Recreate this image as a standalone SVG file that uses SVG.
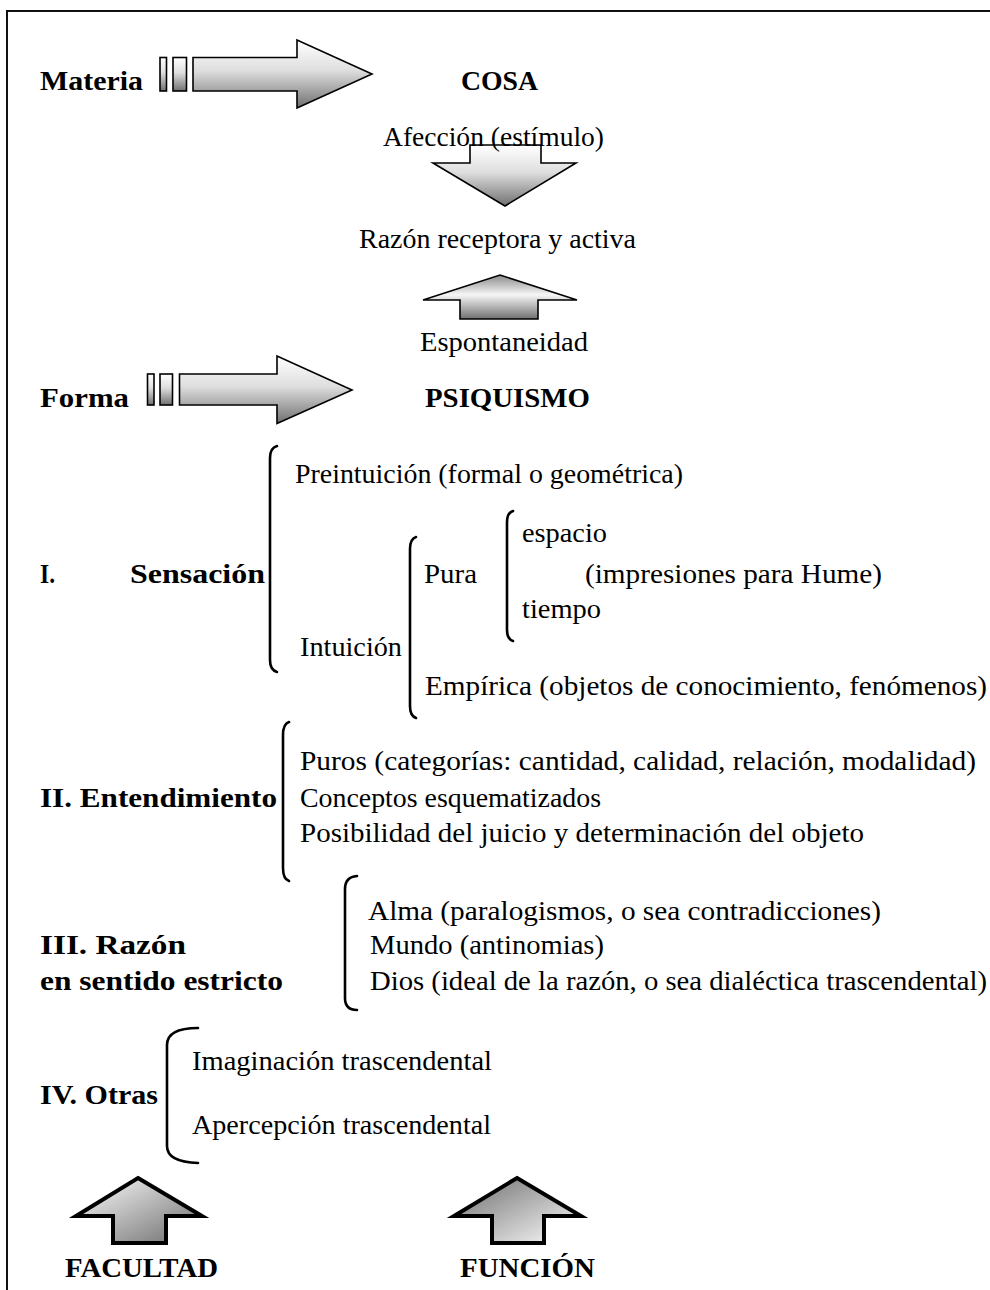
<svg xmlns="http://www.w3.org/2000/svg" width="990" height="1290" viewBox="0 0 990 1290">
  <style>
    .t { font-family: "Liberation Serif", "DejaVu Serif", serif; font-size: 27px; fill: #000; }
    .b { font-family: "Liberation Serif", "DejaVu Serif", serif; font-size: 28px; font-weight: bold; fill: #000; }
    .br { fill: none; stroke: #000; stroke-width: 2.6; stroke-linecap: round; }
    .ar { stroke: #000; stroke-width: 1.6; stroke-linejoin: miter; }
    .big { stroke: #000; stroke-width: 4; stroke-linejoin: miter; }
  </style>
  <defs>
    <linearGradient id="gV" x1="0" y1="0" x2="0" y2="1">
      <stop offset="0" stop-color="#ffffff"/>
      <stop offset="0.45" stop-color="#dedede"/>
      <stop offset="1" stop-color="#707070"/>
    </linearGradient>
    <linearGradient id="gUp" x1="0" y1="0" x2="0" y2="1">
      <stop offset="0" stop-color="#8a8a8a"/>
      <stop offset="0.45" stop-color="#f6f6f6"/>
      <stop offset="1" stop-color="#707070"/>
    </linearGradient>
    <linearGradient id="gD1" x1="0" y1="0" x2="1" y2="1">
      <stop offset="0" stop-color="#ffffff"/>
      <stop offset="1" stop-color="#6a6a6a"/>
    </linearGradient>
    <linearGradient id="gD2" x1="0" y1="0" x2="1" y2="1">
      <stop offset="0" stop-color="#6a6a6a"/>
      <stop offset="1" stop-color="#ffffff"/>
    </linearGradient>
  </defs>

  <rect width="990" height="1290" fill="#fff"/>
  <!-- frame: top and left rules -->
  <path d="M7 1290 V11 H990" fill="none" stroke="#111" stroke-width="2"/>

  <g id="connectors">
    <!-- Materia => COSA -->
    <rect class="ar" x="160" y="57.5" width="6.5" height="33.5" fill="url(#gV)"/>
    <rect class="ar" x="173" y="57.5" width="13.5" height="33.5" fill="url(#gV)"/>
    <polygon class="ar" points="193,57.5 297,57.5 297,40 372,74 297,108 297,91 193,91" fill="url(#gV)"/>
    <!-- Forma => PSIQUISMO -->
    <rect class="ar" x="147.5" y="374" width="6.5" height="31" fill="url(#gV)"/>
    <rect class="ar" x="160" y="374" width="12.5" height="31" fill="url(#gV)"/>
    <polygon class="ar" points="179.5,374 277,374 277,356 352,390 277,423.5 277,405 179.5,405" fill="url(#gV)"/>
    <!-- down arrow under Afección -->
    <polygon class="ar" points="470,145 541,145 541,163 576,163 505,206 433,163 470,163" fill="url(#gV)"/>
    <!-- up arrow above Espontaneidad -->
    <polygon class="ar" points="500,275 577,300 538,300 538,319 460,319 460,300 423,300" fill="url(#gUp)"/>
    <!-- FACULTAD / FUNCIÓN up arrows -->
    <polygon class="big" points="138,1178 202,1216 166,1216 166,1243 113,1243 113,1216 76,1216" fill="url(#gD1)"/>
    <polygon class="big" points="517,1178 581,1216 544,1216 544,1243 492,1243 492,1216 454,1216" fill="url(#gD2)"/>
  </g>

  <g id="brackets">
    <path class="br" d="M277 446 Q270 448 270 458 V660 Q270 670 277 672"/>
    <path class="br" d="M416 537 Q410 539 410 549 V706 Q410 716 416 718"/>
    <path class="br" d="M513 511 Q507 513 507 522 V630 Q507 639 513 641"/>
    <path class="br" d="M289 722 Q283 724 283 735 V868 Q283 879 289 881"/>
    <path class="br" d="M357 876 Q345 877 345 889 V998 Q345 1010 357 1010"/>
    <path class="br" d="M198 1028 Q167 1028 167 1045 V1146 Q167 1162 198 1163"/>
  </g>

  <g id="top-labels">
    <text class="b" x="40" y="90" textLength="103" lengthAdjust="spacingAndGlyphs">Materia</text>
    <text class="b" x="461" y="90" textLength="77" lengthAdjust="spacingAndGlyphs">COSA</text>
    <text class="t" x="383" y="146" textLength="221" lengthAdjust="spacingAndGlyphs">Afección (estímulo)</text>
    <text class="t" x="359" y="248" textLength="277" lengthAdjust="spacingAndGlyphs">Razón receptora y activa</text>
    <text class="t" x="420" y="351" textLength="168" lengthAdjust="spacingAndGlyphs">Espontaneidad</text>
    <text class="b" x="40" y="407" textLength="89" lengthAdjust="spacingAndGlyphs">Forma</text>
    <text class="b" x="425" y="407" textLength="165" lengthAdjust="spacingAndGlyphs">PSIQUISMO</text>
  </g>

  <g id="sensacion">
    <text class="b" x="40" y="583" textLength="15" lengthAdjust="spacingAndGlyphs">I.</text>
    <text class="b" x="130" y="583" textLength="135" lengthAdjust="spacingAndGlyphs">Sensación</text>
    <text class="t" x="295" y="483" textLength="388" lengthAdjust="spacingAndGlyphs">Preintuición (formal o geométrica)</text>
    <text class="t" x="300" y="656" textLength="102" lengthAdjust="spacingAndGlyphs">Intuición</text>
    <text class="t" x="424" y="583" textLength="53" lengthAdjust="spacingAndGlyphs">Pura</text>
    <text class="t" x="522" y="542" textLength="85" lengthAdjust="spacingAndGlyphs">espacio</text>
    <text class="t" x="585" y="583" textLength="297" lengthAdjust="spacingAndGlyphs">(impresiones para Hume)</text>
    <text class="t" x="522" y="618" textLength="79" lengthAdjust="spacingAndGlyphs">tiempo</text>
    <text class="t" x="425" y="695" textLength="562" lengthAdjust="spacingAndGlyphs">Empírica (objetos de conocimiento, fenómenos)</text>
  </g>

  <g id="entendimiento">
    <text class="b" x="40" y="807" textLength="237" lengthAdjust="spacingAndGlyphs">II. Entendimiento</text>
    <text class="t" x="300" y="770" textLength="676" lengthAdjust="spacingAndGlyphs">Puros (categorías: cantidad, calidad, relación, modalidad)</text>
    <text class="t" x="300" y="807" textLength="301" lengthAdjust="spacingAndGlyphs">Conceptos esquematizados</text>
    <text class="t" x="300" y="842" textLength="564" lengthAdjust="spacingAndGlyphs">Posibilidad del juicio y determinación del objeto</text>
  </g>

  <g id="razon">
    <text class="b" x="40" y="954" textLength="146" lengthAdjust="spacingAndGlyphs">III. Razón</text>
    <text class="b" x="40" y="990" textLength="243" lengthAdjust="spacingAndGlyphs">en sentido estricto</text>
    <text class="t" x="368" y="920" textLength="513" lengthAdjust="spacingAndGlyphs">Alma (paralogismos, o sea contradicciones)</text>
    <text class="t" x="370" y="954" textLength="234" lengthAdjust="spacingAndGlyphs">Mundo (antinomias)</text>
    <text class="t" x="370" y="990" textLength="617" lengthAdjust="spacingAndGlyphs">Dios (ideal de la razón, o sea dialéctica trascendental)</text>
  </g>

  <g id="otras">
    <text class="b" x="40" y="1104" textLength="118" lengthAdjust="spacingAndGlyphs">IV. Otras</text>
    <text class="t" x="192" y="1070" textLength="300" lengthAdjust="spacingAndGlyphs">Imaginación trascendental</text>
    <text class="t" x="192" y="1134" textLength="299" lengthAdjust="spacingAndGlyphs">Apercepción trascendental</text>
  </g>

  <g id="footer">
    <text class="b" x="65" y="1277" textLength="153" lengthAdjust="spacingAndGlyphs">FACULTAD</text>
    <text class="b" x="460" y="1277" textLength="135" lengthAdjust="spacingAndGlyphs">FUNCIÓN</text>
  </g>
</svg>
